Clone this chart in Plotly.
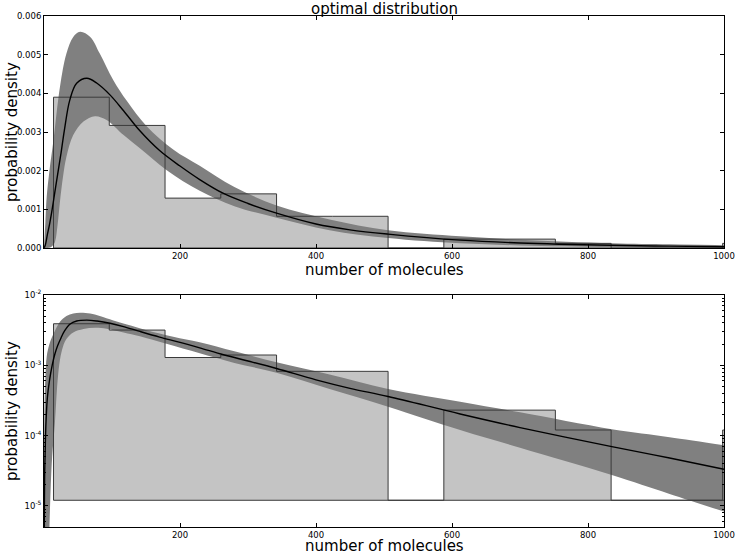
import plotly.graph_objects as go

# ---------------- data ----------------
bin_edges = [14, 96, 178, 260, 342, 424, 506, 588, 670, 752, 834, 916, 998, 1080]
densities = [0.0039, 0.00317, 0.00129, 0.0014, 0.00082, 0.00082, 0.0,
             0.00023, 0.00023, 0.00012, 0.0, 0.0, 0.00012]
LOG_BASE = 1.2e-5  # floor of the step histogram on the log panel

mean_x = [0.5, 1, 2, 3, 5, 8, 12, 16, 20, 25, 30, 38, 48, 63, 78, 97, 117, 141,
          170, 200, 229, 264, 300, 342, 400, 450, 506, 612, 700, 835, 920, 1000]
mean_y = [5e-6, 3e-5, 8e-5, 1.6e-4, 3.5e-4, 6.0e-4, 1.0e-3, 1.45e-3, 1.9e-3,
          2.45e-3, 3.05e-3, 3.83e-3, 4.26e-3, 4.39e-3, 4.26e-3, 3.96e-3, 3.55e-3,
          3.03e-3, 2.52e-3, 2.12e-3, 1.77e-3, 1.41e-3, 1.15e-3, 9.0e-4, 6.2e-4,
          4.7e-4, 3.6e-4, 2.03e-4, 1.30e-4, 6.95e-5, 4.8e-5, 3.32e-5]

upper_x = [0.3, 1, 2, 4, 8, 14, 23.5, 33, 43, 53, 68, 82, 102, 122, 151, 190,
           229, 280, 342, 420, 506, 612, 700, 835, 920, 1000]
upper_y = [1.2e-4, 3.5e-4, 6.5e-4, 1.33e-3, 2.0e-3, 2.8e-3, 4.17e-3, 5.03e-3,
           5.46e-3, 5.59e-3, 5.46e-3, 5.03e-3, 4.34e-3, 3.8e-3, 3.15e-3, 2.55e-3,
           2.13e-3, 1.58e-3, 1.1e-3, 7.4e-4, 4.6e-4, 3.03e-4, 2.14e-4, 1.23e-4,
           9.5e-5, 7.3e-5]

lower_x = [0.3, 6, 8, 10, 12, 16, 20, 23.5, 28, 33, 43, 58, 75, 92, 117, 141,
           180, 229, 280, 342, 420, 506, 612, 700, 835, 920, 1000]
lower_y = [1e-7, 1e-6, 5e-6, 2e-5, 5e-5, 1.5e-4, 6e-4, 1.2e-3, 1.85e-3, 2.36e-3,
           2.92e-3, 3.27e-3, 3.41e-3, 3.31e-3, 2.92e-3, 2.58e-3, 2.02e-3, 1.48e-3,
           1.08e-3, 7.85e-4, 4.6e-4, 2.58e-4, 1.2e-4, 6.7e-5, 2.75e-5, 1.48e-5, 8.3e-6]

x_ticks = [200, 400, 600, 800, 1000]
lin_y_ticks = [0.0, 0.001, 0.002, 0.003, 0.004, 0.005, 0.006]
log_y_ticks = [1e-5, 1e-4, 1e-3, 1e-2]
log_y_text = ["10<sup>-5</sup>", "10<sup>-4</sup>", "10<sup>-3</sup>", "10<sup>-2</sup>"]

TITLE = "optimal distribution"
XLABEL = "number of molecules"
YLABEL = "probability density"

# ---------------- styling ----------------
FONT = "DejaVu Sans"
BAR_FILL = "#c4c4c4"
BAND = "#808080"
OUTLINE = "#3a3a3a"


def step_polygon(base):
    xs = [bin_edges[0]]
    ys = [base]
    for i, h in enumerate(densities):
        v = h if h > 0 else base
        xs += [bin_edges[i], bin_edges[i + 1]]
        ys += [v, v]
    xs += [bin_edges[-1], bin_edges[0]]
    ys += [base, base]
    return xs, ys


fig = go.Figure()

for xa, ya, base in (("x", "y", 0.0), ("x2", "y2", LOG_BASE)):
    hx, hy = step_polygon(base)
    fig.add_trace(go.Scatter(x=hx, y=hy, xaxis=xa, yaxis=ya, mode="lines",
                             fill="toself", fillcolor=BAR_FILL,
                             line=dict(width=0, color=BAR_FILL),
                             hoverinfo="skip", showlegend=False))
    fig.add_trace(go.Scatter(x=lower_x, y=lower_y, xaxis=xa, yaxis=ya, mode="lines",
                             line=dict(width=0, color=BAND, shape="spline"),
                             hoverinfo="skip", showlegend=False))
    fig.add_trace(go.Scatter(x=upper_x, y=upper_y, xaxis=xa, yaxis=ya, mode="lines",
                             fill="tonexty", fillcolor=BAND,
                             line=dict(width=0, color=BAND, shape="spline"),
                             hoverinfo="skip", showlegend=False))
    fig.add_trace(go.Scatter(x=hx, y=hy, xaxis=xa, yaxis=ya, mode="lines",
                             line=dict(width=1, color=OUTLINE),
                             hoverinfo="skip", showlegend=False))
    fig.add_trace(go.Scatter(x=mean_x, y=mean_y, xaxis=xa, yaxis=ya, mode="lines",
                             line=dict(width=1.4, color="black", shape="spline"),
                             hoverinfo="skip", showlegend=False))

W, H = 736, 555
ML, MR, MT, MB = 44, 12, 16, 28
PH = H - MT - MB


def py(pix):
    return (H - MB - pix) / PH


axis_common = dict(showline=True, linecolor="black", linewidth=1, mirror="ticks",
                   ticks="inside", ticklen=4, tickwidth=1, tickcolor="black",
                   showgrid=False, zeroline=False, automargin=False,
                   tickfont=dict(family=FONT, size=8.5, color="black"))


def label(text, x, y, angle=0):
    return dict(text=text, x=x, y=y, xref="paper", yref="paper",
                xanchor="center", yanchor="middle", showarrow=False,
                textangle=angle, font=dict(family=FONT, size=15, color="black"))


YL_X = (12 - ML) / (W - ML - MR)

fig.update_layout(
    width=W, height=H,
    margin=dict(l=ML, r=MR, t=MT, b=MB),
    paper_bgcolor="white", plot_bgcolor="white",
    font=dict(family=FONT, color="black"),
    xaxis=dict(axis_common, domain=[0, 1], range=[0, 1000], tickvals=x_ticks,
               anchor="y"),
    yaxis=dict(axis_common, domain=[py(248), 1], range=[0, 0.006],
               tickvals=lin_y_ticks, tickformat=".3f", anchor="x"),
    xaxis2=dict(axis_common, domain=[0, 1], range=[0, 1000], tickvals=x_ticks,
                anchor="y2"),
    yaxis2=dict(axis_common, domain=[0, py(295)], type="log",
                range=[-5.301, -2], tickvals=log_y_ticks, ticktext=log_y_text,
                minor=dict(ticks="inside", ticklen=2, tickcolor="black",
                           dtick="D1", showgrid=False),
                anchor="x2"),
    annotations=[
        label(TITLE, 0.5, py(9.5)),
        label(XLABEL, 0.5, py(269.5)),
        label(XLABEL, 0.5, py(545.5)),
        label(YLABEL, YL_X, py(132), -90),
        label(YLABEL, YL_X, py(411), -90),
    ],
)

fig.write_html("out.html",
               config={"displayModeBar": False},
               post_script="document.body.style.margin='0px';"
                           "document.body.style.overflow='hidden';")
